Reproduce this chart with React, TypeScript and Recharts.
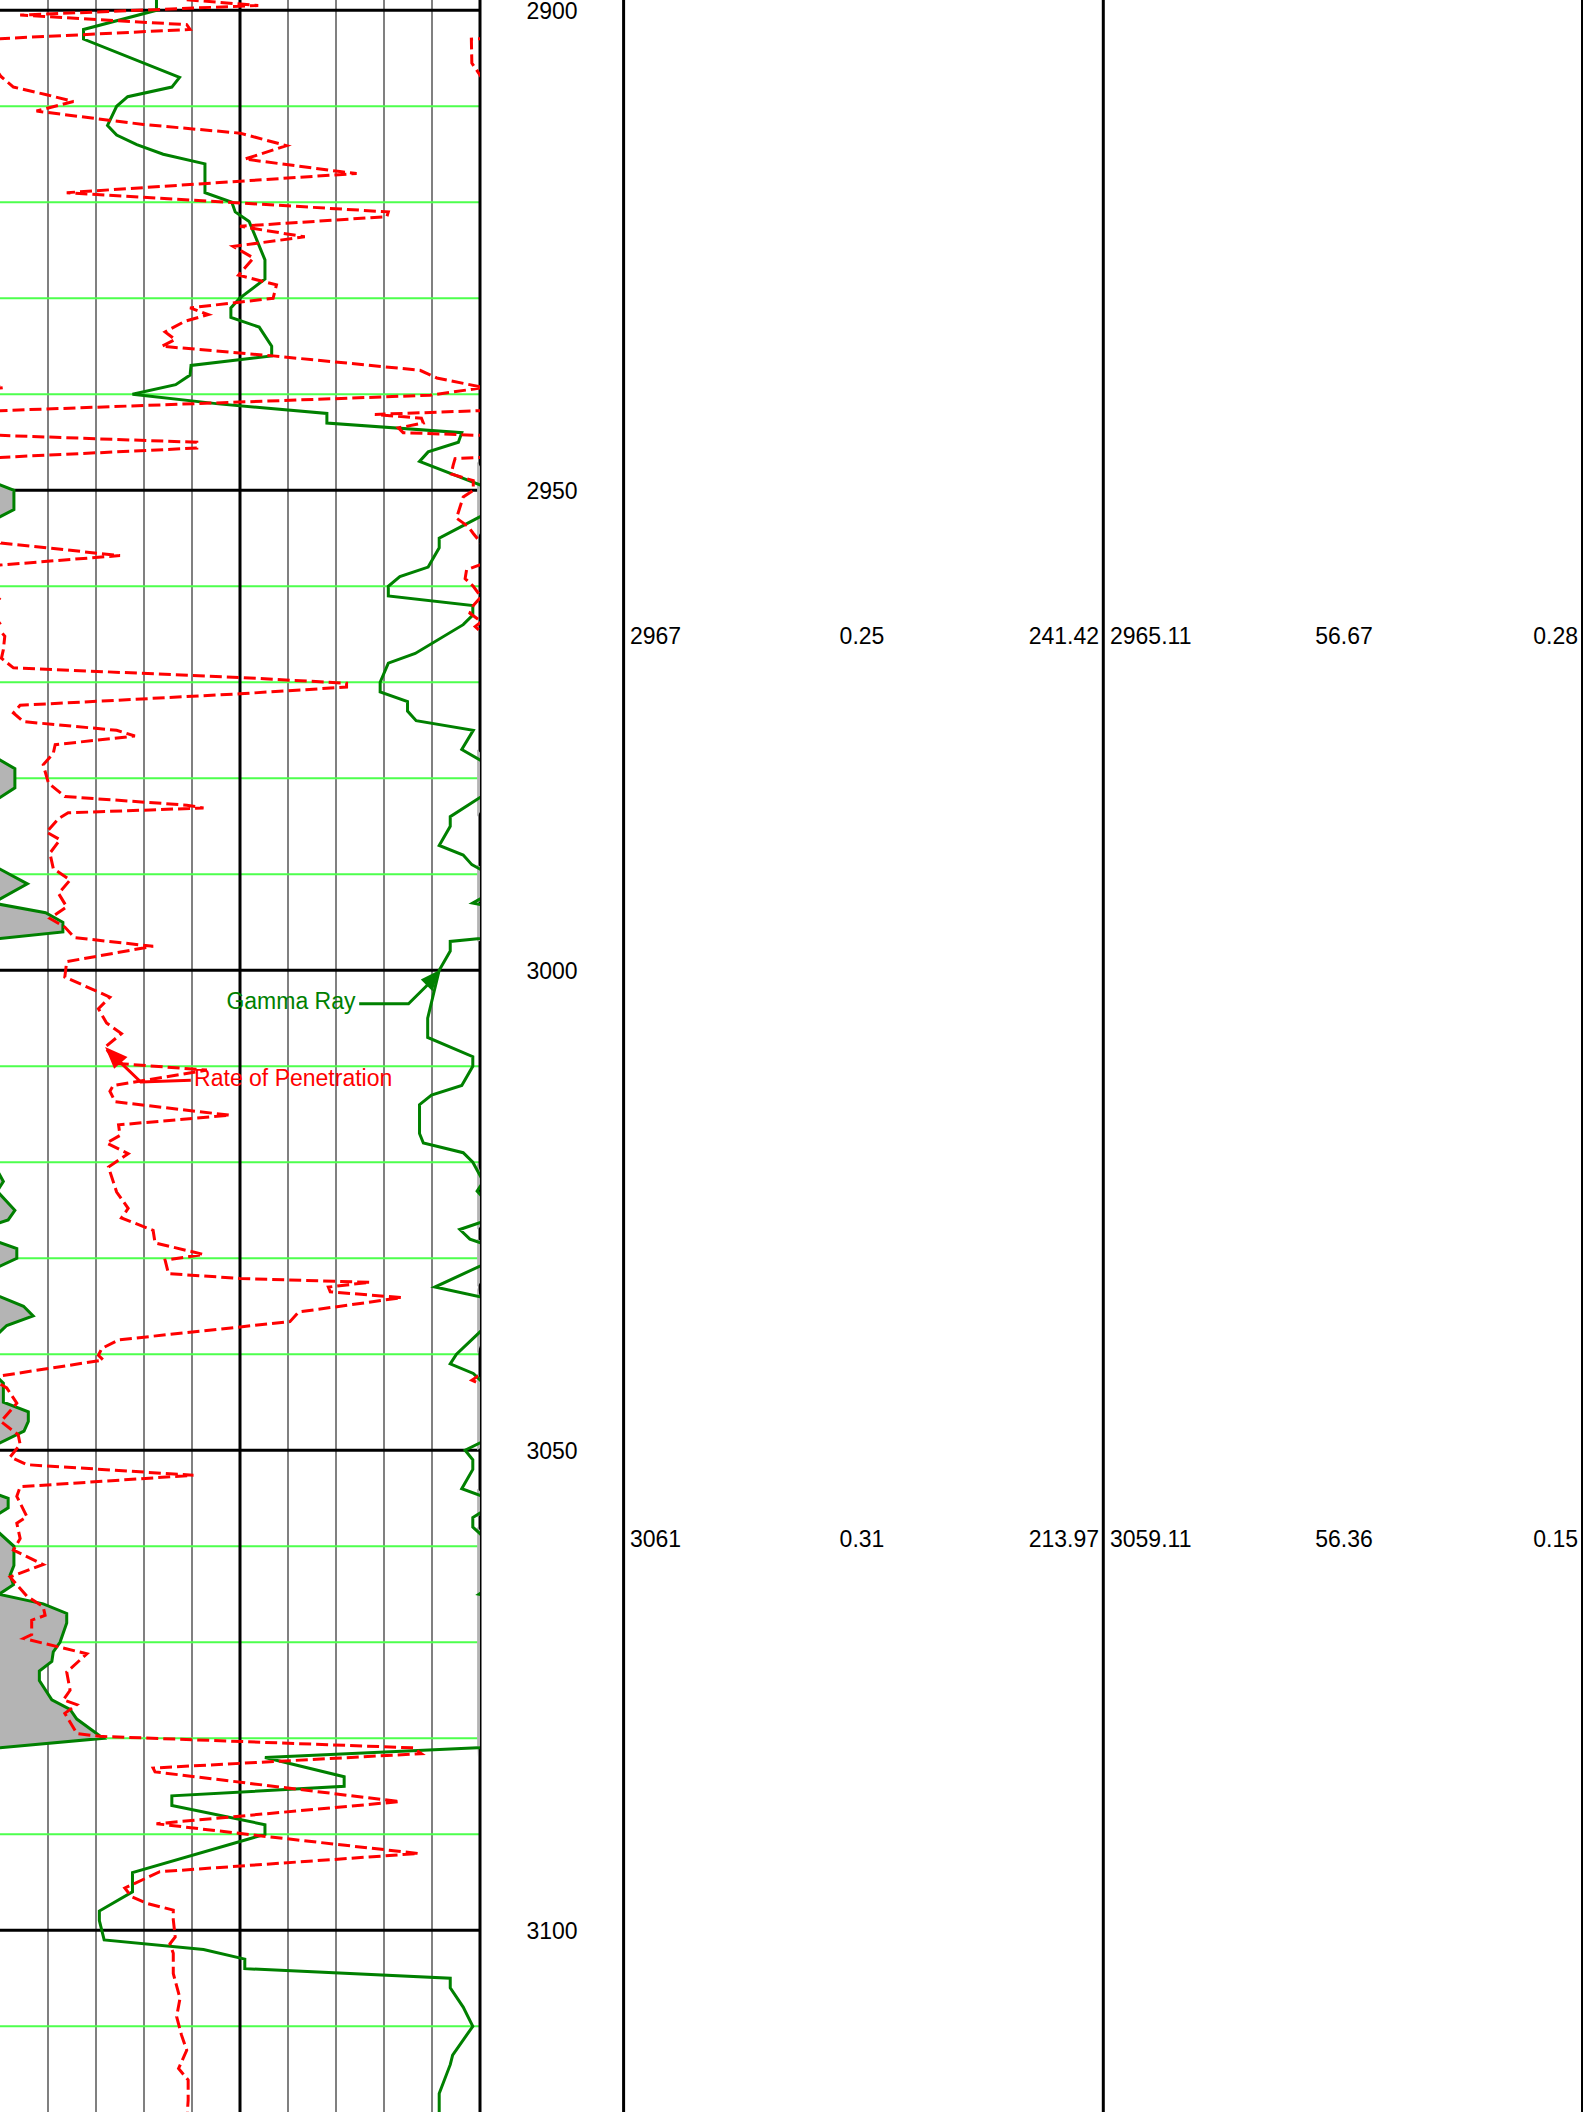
import React from "react";
import { Area, CartesianGrid, ComposedChart, Line, ReferenceDot, ReferenceLine, XAxis, YAxis } from "recharts";

const gammaRay: Array<[number, number]> = [
  [2898, 32.6], [2900, 32.6], [2902, 17.4], [2903, 17.4], [2907, 37.4], [2908, 35.8], [2909, 26.6],
  [2910, 24.3], [2912, 22.4], [2913, 24.3], [2914, 28.5], [2915, 34.0], [2916, 42.7], [2919, 42.7],
  [2920, 48.3], [2921, 49.0], [2922, 51.9], [2926, 55.2], [2928, 55.2], [2930, 49.9], [2931, 48.1],
  [2932, 48.1], [2933, 54.0], [2935, 56.6], [2936, 56.6], [2937, 39.8], [2938, 39.6], [2939, 36.6],
  [2940, 27.6], [2941, 45.5], [2942, 68.1], [2943, 68.1], [2944, 96.2], [2945, 95.5], [2946, 89.2],
  [2947, 87.4], [2950, 102.9], [2952, 102.9], [2955, 91.5], [2956, 91.5], [2958, 89.2], [2959, 83.3],
  [2960, 80.9], [2961, 80.9], [2962, 98.5], [2963, 98.5], [2964, 96.5], [2967, 86.5], [2968, 80.9],
  [2970, 79.2], [2971, 79.2], [2972, 84.9], [2973, 84.9], [2974, 86.7], [2975, 98.6], [2977, 96.2],
  [2979, 103.1], [2981, 103.1], [2984, 93.8], [2985, 93.8], [2987, 91.5], [2988, 96.5], [2989, 98.3],
  [2991, 105.7], [2993, 98.5], [2994, 109.5], [2995, 113.1], [2996, 113.1], [2997, 93.8], [2998, 93.8],
  [3000, 91.5], [3005, 89.1], [3007, 89.1], [3009, 98.5], [3010, 98.5], [3012, 96.2], [3013, 89.9],
  [3014, 87.4], [3017, 87.4], [3018, 88.2], [3019, 96.5], [3020, 98.5], [3022, 100.7], [3023, 99.4],
  [3025, 103.1], [3026, 101.7], [3027, 95.8], [3028, 97.9], [3029, 103.5], [3030, 103.5], [3033, 90.6],
  [3034, 100.0], [3035, 104.9], [3036, 106.9], [3037, 101.4], [3040, 95.1], [3041, 93.8], [3042, 98.6],
  [3043, 100.7], [3045, 100.7], [3046, 105.9], [3047, 105.9], [3048, 105.0], [3050, 96.9], [3051, 98.5],
  [3052, 98.5], [3054, 96.2], [3055, 101.7], [3056, 101.7], [3057, 98.5], [3058, 98.5], [3060, 102.9],
  [3062, 102.9], [3063, 102.1], [3064, 102.8], [3065, 99.8], [3066, 109.0], [3067, 113.9], [3068, 113.9],
  [3070, 112.5], [3071, 111.1], [3072, 110.8], [3073, 108.2], [3074, 108.2], [3076, 110.8], [3077, 114.6],
  [3078, 116.0], [3080, 121.5], [3081, 99.5], [3082, 55.2], [3084, 71.7], [3085, 71.7], [3086, 35.8],
  [3087, 35.8], [3089, 55.2], [3090, 55.2], [3094, 27.6], [3096, 27.6], [3098, 20.7], [3099, 20.7],
  [3101, 21.7], [3102, 42.4], [3103, 51.0], [3104, 51.0], [3105, 93.8], [3106, 93.8], [3108, 96.5],
  [3110, 98.5], [3113, 94.3], [3114, 93.8], [3117, 91.5], [3120, 91.5],
];

const penetrationRate: Array<[number, number]> = [
  [2898.9, 38.9], [2899.5, 53.8], [2900.5, 4.2], [2901.5, 38.9], [2902.0, 39.6], [2903.0, -1.8],
  [2905.5, -1.7], [2906.9, 0.2], [2908.0, 2.8], [2908.8, 9.7], [2909.5, 15.3], [2910.5, 7.6],
  [2911.9, 29.9], [2912.8, 50.0], [2913.5, 55.2], [2914.1, 59.7], [2915.5, 51.0], [2916.8, 70.8],
  [2917.0, 74.3], [2919.0, 13.9], [2921.0, 80.9], [2921.5, 80.6], [2922.5, 50.0], [2923.6, 63.5],
  [2924.6, 48.6], [2925.8, 52.8], [2927.6, 49.7], [2928.6, 57.6], [2930.0, 56.9], [2931.0, 39.6],
  [2931.7, 43.4], [2932.4, 38.5], [2933.5, 34.4], [2934.3, 36.5], [2935.0, 33.7], [2936.0, 56.9],
  [2937.5, 87.5], [2938.3, 91.0], [2939.3, 100.8], [2940.1, 89.6], [2942.1, -21.9], [2942.5, -12.2],
  [2943.0, -11.8], [2943.5, -17.0], [2944.0, -16.0], [2945.0, 41.0], [2945.6, 41.0], [2946.7, -5.2],
  [2947.4, -5.6], [2948.3, -6.0], [2949.0, -1.4], [2950.0, -1.4], [2950.7, -3.5], [2952.9, -4.9],
  [2953.8, -2.4], [2954.5, -1.4], [2955.5, 0.2], [2956.8, 25.0], [2957.8, -0.2], [2958.3, -2.8],
  [2959.2, -3.1], [2960.0, -1.4], [2961.1, 0.2], [2962.0, -1.4], [2962.8, -2.1], [2963.7, 0.3],
  [2964.2, -1.0], [2964.9, 0.5], [2965.2, 1.0], [2966.6, 0.7], [2967.5, 0.3], [2968.5, 2.8],
  [2969.5, 50.0], [2970.1, 72.2], [2970.5, 72.2], [2971.2, 50.0], [2972.4, 4.2], [2973.2, 2.8],
  [2974.1, 4.9], [2975.0, 24.3], [2975.6, 28.1], [2976.5, 11.5], [2977.4, 11.1], [2978.6, 9.0],
  [2980.5, 10.1], [2981.9, 13.5], [2982.8, 38.9], [2983.1, 42.4], [2983.6, 14.2], [2984.2, 12.2],
  [2985.6, 9.7], [2986.4, 12.5], [2987.8, 10.4], [2989.4, 11.1], [2990.6, 14.6], [2992.0, 12.2],
  [2993.4, 13.9], [2994.6, 10.4], [2995.5, 13.5], [2996.6, 15.5], [2997.5, 31.9], [2999.1, 13.9],
  [3000.7, 13.5], [3002.8, 22.9], [3004.0, 20.5], [3005.5, 22.2], [3006.6, 25.3], [3008.0, 21.9],
  [3009.7, 24.3], [3010.4, 43.1], [3012.0, 23.6], [3012.6, 22.9], [3013.7, 24.0], [3015.1, 47.9],
  [3016.1, 24.7], [3017.2, 25.0], [3018.0, 22.2], [3019.1, 26.7], [3020.5, 22.6], [3023.1, 24.3],
  [3024.8, 26.7], [3025.8, 25.3], [3027.1, 31.9], [3028.4, 32.3], [3029.6, 42.4], [3030.2, 34.4],
  [3031.6, 35.1], [3032.1, 50.0], [3032.5, 77.1], [3033.0, 68.4], [3033.5, 68.8], [3034.1, 83.7],
  [3035.6, 62.2], [3036.6, 60.4], [3038.5, 24.7], [3039.4, 21.2], [3040.1, 20.5], [3040.6, 21.5],
  [3042.3, -0.5], [3042.7, -1.7], [3043.2, 0.4], [3043.5, 1.4], [3045.1, 3.5], [3047.0, 0.2],
  [3048.4, 3.8], [3049.4, 4.2], [3050.7, 2.1], [3051.5, 5.6], [3052.6, 40.3], [3053.8, 4.2],
  [3054.8, 3.5], [3056.9, 5.6], [3057.6, 3.5], [3059.2, 4.2], [3060.4, 2.8], [3061.9, 9.0],
  [3063.2, 2.1], [3065.2, 5.6], [3066.3, 9.0], [3067.2, 9.4], [3067.7, 6.6], [3069.2, 6.6],
  [3069.6, 4.9], [3071.2, 18.1], [3073.1, 13.9], [3075.0, 14.6], [3076.0, 13.2], [3076.5, 16.0],
  [3077.4, 13.5], [3079.5, 16.0], [3079.8, 20.8], [3081.0, 86.1], [3081.6, 87.8], [3083.1, 31.9],
  [3083.5, 32.3], [3086.6, 83.3], [3088.9, 32.6], [3090.2, 54.9], [3092.0, 87.2], [3093.9, 33.3],
  [3095.6, 26.0], [3096.5, 27.4], [3097.2, 30.6], [3097.9, 36.1], [3098.9, 36.1], [3100.7, 36.5],
  [3101.4, 35.4], [3102.4, 36.1], [3104.5, 36.1], [3107.1, 37.5], [3109.0, 36.8], [3110.9, 37.8],
  [3112.5, 38.9], [3114.4, 37.2], [3115.6, 39.2], [3117.7, 39.2], [3120.0, 38.9],
];

const depthTicks = [2900, 2950, 3000, 3050, 3100];
const minorDepths = [2910, 2920, 2930, 2940, 2960, 2970, 2980, 2990, 3010, 3020, 3030, 3040, 3060, 3070, 3080, 3090, 3110];
const majorTrack = [0, 50, 100];
const minorTrack = [10, 20, 30, 40, 60, 70, 80, 90];

const readoutRows = [
  { depth: 2965.11, cells: ["2967", "0.25", "241.42", "2965.11", "56.67", "0.28"] },
  { depth: 3059.11, cells: ["3061", "0.31", "213.97", "3059.11", "56.36", "0.15"] },
];

const callouts = [
  { name: "Gamma Ray", depth: 3000, value: 91.5 },
  { name: "Rate of Penetration", depth: 3008, value: 21.9 },
];

// layout
const W = 1584;
const H = 2112;
const TRACK_W = 480;
const LABEL_W = 140;
const TOP = 2898.93;
const BOTTOM = 3118.93;
const PX = 100 / TRACK_W;
const FONT = '"Liberation Sans", Arial, sans-serif';
const FS = 23;
const GR_COLOR = "#008000";
const ROP_COLOR = "#ff0000";
const SHADE = "#b4b4b4";
const EDGE = 99.4;
const DASH = "12 5";
const TABLE_LINES = [623.6, 1103.3, 1582];
const COLS: Array<{ x: number; anchor: "start" | "middle" | "end" }> = [
  { x: 630, anchor: "start" },
  { x: 862, anchor: "middle" },
  { x: 1099, anchor: "end" },
  { x: 1110, anchor: "start" },
  { x: 1344, anchor: "middle" },
  { x: 1578, anchor: "end" },
];

const grData = gammaRay.map(([depth, gr]) => ({ depth, gr, wrap: gr - 100, edge: Math.max(gr, EDGE) }));
const ropData = penetrationRate.map(([depth, rop]) => ({ depth, rop, under: rop + 100, over: rop - 100 }));

function DepthTick(props: any) {
  const { y, payload } = props;
  return (
    <text x={552} y={y + 1} textAnchor="middle" dominantBaseline="central" fontSize={FS} fontFamily={FONT} fill="#000">
      {payload.value}
    </text>
  );
}

function ReadoutRow({ cy, cells }: { cy: number; cells: string[] }) {
  return (
    <g>
      {cells.map((c, i) => (
        <text key={i} x={COLS[i].x} y={cy + 1} textAnchor={COLS[i].anchor} dominantBaseline="central" fontSize={FS} fontFamily={FONT} fill="#000">
          {c}
        </text>
      ))}
    </g>
  );
}

function GammaCallout({ cx, cy, label }: { cx: number; cy: number; label: string }) {
  return (
    <g>
      <polygon points={`${cx},${cy} ${cx - 18.4},${cy + 9.3} ${cx - 6.7},${cy + 21}`} fill={GR_COLOR} />
      <polyline points={`${cx - 11},${cy + 14} ${cx - 30.7},${cy + 33.6} ${cx - 80},${cy + 33.6}`} fill="none" stroke={GR_COLOR} strokeWidth={3} />
      <text x={cx - 83.7} y={cy + 38.6} textAnchor="end" fontSize={FS} fontFamily={FONT} fill={GR_COLOR}>
        {label}
      </text>
    </g>
  );
}

function RopCallout({ cx, cy, label }: { cx: number; cy: number; label: string }) {
  return (
    <g>
      <polygon points={`${cx},${cy} ${cx + 9},${cy + 21.6} ${cx + 22.4},${cy + 10}`} fill={ROP_COLOR} />
      <polyline points={`${cx + 15},${cy + 15} ${cx + 35.7},${cy + 35} ${cx + 85.7},${cy + 33.3}`} fill="none" stroke={ROP_COLOR} strokeWidth={3} />
      <text x={cx + 89} y={cy + 39.3} textAnchor="start" fontSize={FS} fontFamily={FONT} fill={ROP_COLOR}>
        {label}
      </text>
    </g>
  );
}

export default function App() {
  return (
    <div style={{ position: "absolute", left: 0, top: 0, width: W, height: H, background: "#fff", fontFamily: FONT }}>
      <ComposedChart width={W} height={H} layout="vertical" margin={{ top: 0, right: W - TRACK_W - LABEL_W, bottom: 0, left: 0 }}>
        <XAxis type="number" domain={[0, 100]} allowDataOverflow hide />
        <YAxis
          type="number"
          dataKey="depth"
          domain={[TOP, BOTTOM]}
          allowDataOverflow
          orientation="right"
          width={LABEL_W}
          ticks={depthTicks}
          interval={0}
          axisLine={false}
          tickLine={false}
          tick={<DepthTick />}
        />
        <CartesianGrid horizontal={false} verticalValues={minorTrack} stroke="#808080" strokeWidth={2} />
        <CartesianGrid vertical={false} horizontalValues={minorDepths} stroke="#4dff4d" strokeWidth={1.8} />
        <CartesianGrid horizontal={false} verticalValues={majorTrack} stroke="#000" strokeWidth={3} />
        <CartesianGrid vertical={false} horizontalValues={depthTicks} stroke="#000" strokeWidth={3} />

        <Area data={grData} dataKey="edge" baseValue={EDGE} type="linear" fill={SHADE} fillOpacity={1} stroke="none" isAnimationActive={false} />
        <Area data={grData} dataKey="wrap" baseValue={0} type="linear" fill={SHADE} fillOpacity={1} stroke={GR_COLOR} strokeWidth={3} isAnimationActive={false} />
        <Line data={grData} dataKey="gr" type="linear" stroke={GR_COLOR} strokeWidth={3} dot={false} isAnimationActive={false} />

        <Line data={ropData} dataKey="rop" type="linear" stroke={ROP_COLOR} strokeWidth={3} strokeDasharray={DASH} dot={false} isAnimationActive={false} />
        <Line data={ropData} dataKey="under" type="linear" stroke={ROP_COLOR} strokeWidth={3} strokeDasharray={DASH} dot={false} isAnimationActive={false} />
        <Line data={ropData} dataKey="over" type="linear" stroke={ROP_COLOR} strokeWidth={3} strokeDasharray={DASH} dot={false} isAnimationActive={false} />

        {TABLE_LINES.map((px, i) => (
          <ReferenceLine key={`tl${i}`} x={px * PX} ifOverflow="visible" stroke="#000" strokeWidth={i === 2 ? 2 : 3} />
        ))}

        {readoutRows.map((row) => (
          <ReferenceDot
            key={row.depth}
            x={0}
            y={row.depth}
            r={0}
            ifOverflow="visible"
            shape={(p: any) => <ReadoutRow cy={p.cy} cells={row.cells} />}
          />
        ))}

        <ReferenceDot
          x={callouts[0].value}
          y={callouts[0].depth}
          r={0}
          ifOverflow="visible"
          shape={(p: any) => <GammaCallout cx={p.cx} cy={p.cy} label={callouts[0].name} />}
        />
        <ReferenceDot
          x={callouts[1].value}
          y={callouts[1].depth}
          r={0}
          ifOverflow="visible"
          shape={(p: any) => <RopCallout cx={p.cx} cy={p.cy} label={callouts[1].name} />}
        />
      </ComposedChart>
    </div>
  );
}
